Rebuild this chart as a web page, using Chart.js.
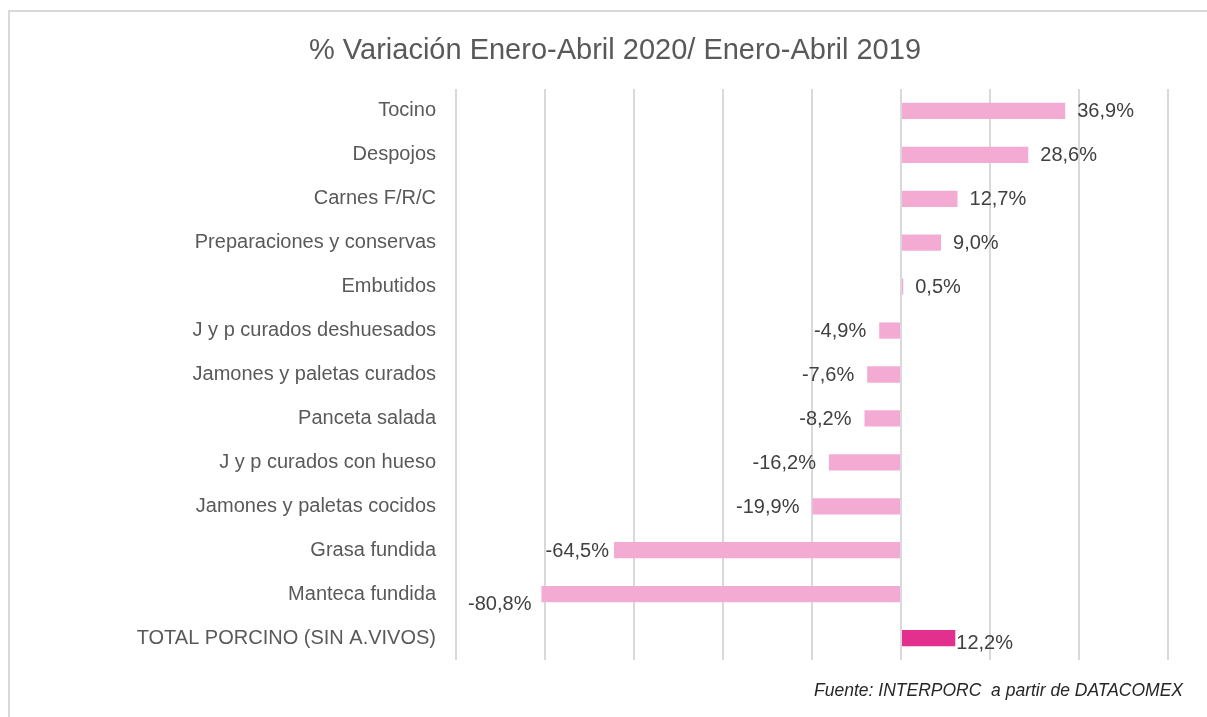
<!DOCTYPE html>
<html>
<head>
<meta charset="utf-8">
<script src="https://cdn.jsdelivr.net/npm/chart.js@4"></script>
<style>
  html, body { margin: 0; padding: 0; background: #fff; }
  #wrap { width: 1207px; height: 717px; position: relative; }
</style>
</head>
<body>
<div id="wrap"><canvas id="myChart" width="1207" height="717"></canvas></div>
<script>
const categorias = [
  'Tocino', 'Despojos', 'Carnes F/R/C', 'Preparaciones y conservas', 'Embutidos',
  'J y p curados deshuesados', 'Jamones y paletas curados', 'Panceta salada',
  'J y p curados con hueso', 'Jamones y paletas cocidos', 'Grasa fundida',
  'Manteca fundida', 'TOTAL PORCINO (SIN A.VIVOS)'
];
const variacion = [36.9, 28.6, 12.7, 9.0, 0.5, -4.9, -7.6, -8.2, -16.2, -19.9, -64.5, -80.8, 12.2];
const colores = categorias.map((c, i) => i === categorias.length - 1 ? '#E3308E' : '#F3ABD4');

const FONT = '"Liberation Sans", Arial, sans-serif';

// titulo, fuente, marco y etiquetas de datos
const extras = {
  id: 'extras',
  beforeDraw(chart) {
    const ctx = chart.ctx;
    ctx.save();
    ctx.strokeStyle = '#d9d9d9';
    ctx.lineWidth = 2;
    ctx.beginPath();
    ctx.moveTo(9, 717);
    ctx.lineTo(9, 11);
    ctx.lineTo(1207, 11);
    ctx.stroke();
    ctx.restore();
  },
  afterDatasetsDraw(chart) {
    const ctx = chart.ctx;
    ctx.save();
    ctx.fillStyle = '#595959';
    ctx.font = '29px ' + FONT;
    ctx.textAlign = 'center';
    ctx.textBaseline = 'middle';
    ctx.fillText('% Variación Enero-Abril 2020/ Enero-Abril 2019', 615, 51);

    ctx.font = 'italic 17.5px ' + FONT;
    ctx.textAlign = 'right';
    ctx.fillStyle = '#262626';
    ctx.fillText('Fuente: INTERPORC  a partir de DATACOMEX', 1183, 691);

    ctx.font = '20px ' + FONT;
    ctx.fillStyle = '#404040';
    const meta = chart.getDatasetMeta(0);
    meta.data.forEach((bar, i) => {
      const v = variacion[i];
      const txt = v.toFixed(1).replace('.', ',') + '%';
      let dy = 1;
      if (i === 11) dy = 10;
      if (i === 12) dy = 5;
      if (v >= 0) {
        ctx.textAlign = 'left';
        ctx.fillText(txt, bar.x + (i === 12 ? 1 : 12), bar.y + dy);
      } else {
        ctx.textAlign = 'right';
        const gap = i === 10 ? 5 : (i === 11 ? 10 : 13);
        ctx.fillText(txt, bar.x - gap, bar.y + dy);
      }
    });
    ctx.restore();
  }
};

new Chart(document.getElementById('myChart'), {
  type: 'bar',
  data: {
    labels: categorias,
    datasets: [{
      data: variacion,
      backgroundColor: colores,
      barPercentage: 0.37,
      categoryPercentage: 1
    }]
  },
  options: {
    indexAxis: 'y',
    responsive: false,
    animation: false,
    layout: { padding: { top: 89, bottom: 57, right: 39, left: 0 } },
    plugins: { legend: { display: false }, tooltip: { enabled: false } },
    scales: {
      x: {
        min: -100, max: 60,
        ticks: { display: false, stepSize: 20 },
        grid: { color: '#d9d9d9', lineWidth: 2, drawTicks: false },
        border: { display: false }
      },
      y: {
        afterFit(scale) { scale.width = 456; },
        ticks: { color: '#595959', font: { family: FONT, size: 20 }, padding: 20 },
        grid: { display: false, drawTicks: false },
        border: { display: false }
      }
    }
  },
  plugins: [extras]
});
</script>
</body>
</html>
